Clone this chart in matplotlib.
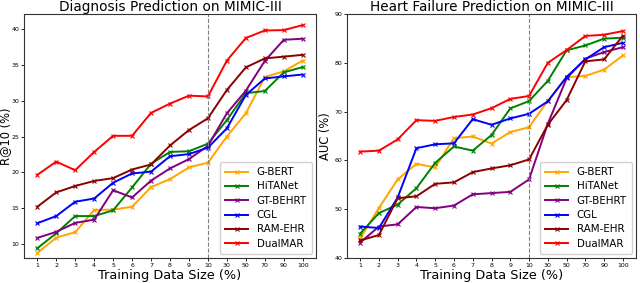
import matplotlib
matplotlib.use("Agg")
import matplotlib.pyplot as plt

sizes = ["1", "2", "3", "4", "5", "6", "7", "8", "9", "10", "30", "50", "70", "90", "100"]
models = ["G-BERT", "HiTANet", "GT-BEHRT", "CGL", "RAM-EHR", "DualMAR"]
colors = ["orange", "green", "purple", "blue", "darkred", "red"]

diag_gbert = [8.75, 10.9, 11.65, 14.75, 14.8, 15.2, 17.95, 19.05, 20.7, 21.35, 25.0, 28.25, 33.3, 34.1, 35.6]
diag_hitanet = [9.4, 11.5, 13.9, 13.9, 14.7, 17.9, 21.2, 22.85, 22.95, 24.0, 27.3, 31.05, 31.35, 33.95, 34.7]
diag_gtbehrt = [10.85, 11.7, 12.95, 13.4, 17.5, 16.5, 18.85, 20.55, 21.85, 23.7, 28.25, 31.4, 35.55, 38.5, 38.65]
diag_cgl = [12.9, 13.9, 15.9, 16.35, 18.55, 19.85, 20.1, 22.25, 22.55, 23.45, 26.15, 30.8, 33.1, 33.4, 33.65]
diag_ramehr = [15.2, 17.2, 18.1, 18.8, 19.2, 20.4, 21.1, 23.75, 25.9, 27.55, 31.5, 34.65, 35.9, 36.15, 36.4]
diag_dualmar = [19.65, 21.5, 20.3, 22.85, 25.1, 25.1, 28.3, 29.6, 30.7, 30.6, 35.6, 38.75, 39.8, 39.85, 40.55]

hf_gbert = [44.0, 50.25, 56.1, 59.3, 58.55, 64.55, 64.9, 63.45, 65.8, 66.8, 72.2, 77.05, 77.3, 78.6, 81.5]
hf_hitanet = [45.0, 49.2, 50.95, 54.3, 59.5, 62.85, 62.0, 65.2, 70.65, 72.15, 76.3, 82.55, 83.55, 84.95, 85.15]
hf_gtbehrt = [43.15, 46.45, 46.9, 50.45, 50.2, 50.75, 53.05, 53.3, 53.55, 56.1, 67.5, 76.8, 80.85, 82.2, 83.2]
hf_cgl = [46.45, 46.15, 52.4, 62.5, 63.3, 63.5, 68.45, 67.3, 68.6, 69.55, 72.1, 77.1, 80.7, 83.2, 84.1]
hf_ramehr = [43.6, 44.7, 52.25, 52.65, 55.2, 55.5, 57.6, 58.35, 59.0, 60.2, 67.3, 72.35, 80.3, 80.7, 85.55]
hf_dualmar = [61.8, 62.0, 64.3, 68.25, 68.1, 68.9, 69.4, 70.7, 72.6, 73.2, 80.0, 82.6, 85.5, 85.75, 86.5]

diag = [diag_gbert, diag_hitanet, diag_gtbehrt, diag_cgl, diag_ramehr, diag_dualmar]
hf = [hf_gbert, hf_hitanet, hf_gtbehrt, hf_cgl, hf_ramehr, hf_dualmar]

W, H = 640, 283
fig = plt.figure(figsize=(W / 100, H / 100), dpi=100)


def make_ax(x0, x1, y0, y1):
    return fig.add_axes([x0 / W, 1 - y1 / H, (x1 - x0) / W, (y1 - y0) / H])


ax1 = make_ax(24, 316, 14, 258)
ax2 = make_ax(347, 636, 14, 258)

for ax, data, title, ylabel, ylim, yticks, lx in [
    (ax1, diag, "Diagnosis Prediction on MIMIC-III", "R@10 (%)", (8.05, 42.1), [10, 15, 20, 25, 30, 35, 40], (12 - 24) / 292),
    (ax2, hf, "Heart Failure Prediction on MIMIC-III", "AUC (%)", (40, 90), [40, 50, 60, 70, 80, 90], (332 - 347) / 289),
]:
    xs = list(range(len(sizes)))
    for name, vals, c in zip(models, data, colors):
        ax.plot(xs, vals, color=c, lw=1.4, marker="x", ms=3.5, mew=0.8, label=name)
    ax.axvline(9, color="gray", ls="--", lw=0.8)
    ax.set_xticks(xs)
    ax.set_xticklabels(sizes)
    ax.set_xlim(-0.7, len(sizes) - 0.3)
    ax.set_ylim(*ylim)
    ax.set_yticks(yticks)
    ax.tick_params(labelsize=4.5, length=2, width=0.6, pad=1.5)
    for s in ax.spines.values():
        s.set_linewidth(0.8)
        s.set_color("#333333")
    ax.set_title(title, fontsize=9.8, pad=1.5)
    ax.set_xlabel("Training Data Size (%)", fontsize=9.3, labelpad=0.5)
    ax.set_ylabel(ylabel, fontsize=8.3)
    ax.yaxis.set_label_coords(lx, 0.5)
    ax.legend(loc="lower right", fontsize=7.4, handlelength=2.3, borderpad=0.5,
              labelspacing=0.42, handletextpad=0.8, framealpha=0.9,
              borderaxespad=0.4)

fig.savefig("out.png", dpi=100)
